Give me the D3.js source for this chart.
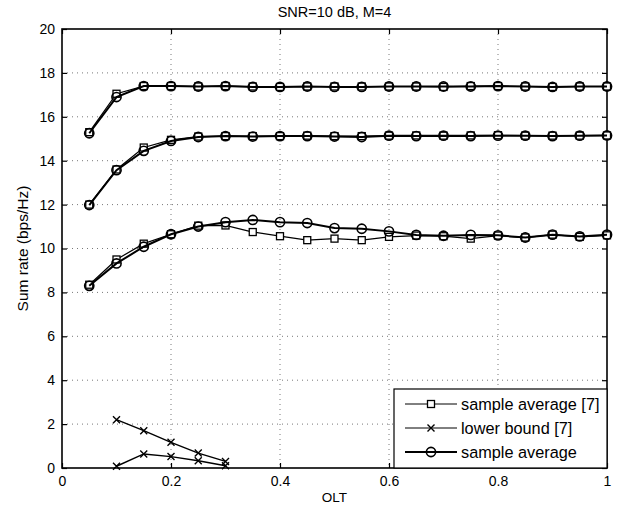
<!DOCTYPE html>
<html><head><meta charset="utf-8">
<script src="https://cdn.jsdelivr.net/npm/d3@7"></script>
<style>body{margin:0;background:#fff}svg{display:block}text{font-family:"Liberation Sans",Arial,sans-serif;fill:#000}</style>
</head><body><svg id="c" width="622" height="512"></svg>
<script>
const title = "SNR=10 dB, M=4";
const xLabel = "OLT";
const yLabel = "Sum rate (bps/Hz)";
const xTicks = [0, 0.2, 0.4, 0.6, 0.8, 1];
const yTicks = [0, 2, 4, 6, 8, 10, 12, 14, 16, 18, 20];
const olt = [0.05,0.1,0.15,0.2,0.25,0.3,0.35,0.4,0.45,0.5,0.55,0.6,0.65,0.7,0.75,0.8,0.85,0.9,0.95,1.0];
const topSq = [15.3,17.05,17.4,17.4,17.38,17.4,17.38,17.36,17.38,17.38,17.38,17.38,17.38,17.36,17.4,17.4,17.38,17.36,17.38,17.38];
const topCi = [15.25,16.9,17.4,17.4,17.38,17.4,17.36,17.36,17.38,17.36,17.36,17.38,17.38,17.38,17.38,17.4,17.38,17.36,17.38,17.38];
const midSq = [12.0,13.6,14.6,14.95,15.1,15.12,15.12,15.12,15.14,15.12,15.12,15.14,15.15,15.14,15.15,15.16,15.14,15.14,15.14,15.15];
const midCi = [11.98,13.57,14.45,14.9,15.08,15.12,15.1,15.12,15.12,15.1,15.08,15.14,15.12,15.14,15.12,15.14,15.14,15.12,15.14,15.15];
const botSq = [8.35,9.5,10.22,10.65,11.04,11.05,10.75,10.56,10.38,10.45,10.38,10.53,10.59,10.56,10.45,10.59,10.5,10.63,10.53,10.6];
const botCi = [8.3,9.32,10.08,10.65,11.0,11.2,11.3,11.2,11.16,10.93,10.9,10.78,10.62,10.58,10.62,10.6,10.5,10.63,10.55,10.63];
const lbX = [0.1,0.15,0.2,0.25,0.3];
const lbA = [2.2,1.7,1.17,0.68,0.3];
const lbB = [0.08,0.64,0.52,0.33,0.1];
const legendLabels = ["sample average [7]", "lower bound [7]", "sample average"];

const svg = d3.select("#c");
const L = 62, R = 607, T = 29, B = 468;
const x = d3.scaleLinear().domain([0, 1]).range([L, R]);
const y = d3.scaleLinear().domain([0, 20]).range([B, T]);

// grid
const g = svg.append("g");
g.selectAll(".gx").data(xTicks.slice(1, -1)).join("line")
  .attr("x1", d => x(d)).attr("x2", d => x(d)).attr("y1", T).attr("y2", B)
  .attr("stroke", "#555").attr("stroke-width", 0.8).attr("stroke-dasharray", "1,4");
g.selectAll(".gy").data(yTicks.slice(1, -1)).join("line")
  .attr("y1", d => y(d)).attr("y2", d => y(d)).attr("x1", L).attr("x2", R)
  .attr("stroke", "#555").attr("stroke-width", 0.8).attr("stroke-dasharray", "1,4");

// axes
const fs = 14;
const ax = svg.append("g").attr("transform", `translate(0,${B})`)
  .call(d3.axisBottom(x).tickValues(xTicks).tickFormat(d3.format("~g")).tickSizeInner(-5).tickSizeOuter(0).tickPadding(8));
const ay = svg.append("g").attr("transform", `translate(${L},0)`)
  .call(d3.axisLeft(y).tickValues(yTicks).tickSizeInner(-5).tickSizeOuter(0).tickPadding(7));
const at = svg.append("g").attr("transform", `translate(0,${T})`)
  .call(d3.axisTop(x).tickValues(xTicks).tickFormat("").tickSizeInner(-5).tickSizeOuter(0));
const ar = svg.append("g").attr("transform", `translate(${R},0)`)
  .call(d3.axisRight(y).tickValues(yTicks).tickFormat("").tickSizeInner(-5).tickSizeOuter(0));
[ax, ay, at, ar].forEach(a => {
  a.select(".domain").remove();
  a.selectAll("line").attr("stroke", "#000").attr("stroke-width", 1.2);
  a.selectAll("text").attr("font-size", fs).attr("font-family", "Liberation Sans, Arial, sans-serif").attr("fill", "#000");
});
svg.append("rect").attr("x", L).attr("y", T).attr("width", R - L).attr("height", B - T)
  .attr("fill", "none").attr("stroke", "#000").attr("stroke-width", 1.6);

// series
const line = d3.line().x(d => x(d[0])).y(d => y(d[1]));
const plot = svg.append("g");
function drawSeries(xs, ys, marker, lw) {
  const pts = xs.map((v, i) => [v, ys[i]]);
  plot.append("path").attr("d", line(pts)).attr("fill", "none").attr("stroke", "#000").attr("stroke-width", lw);
  pts.forEach(p => drawMarker(plot, x(p[0]), y(p[1]), marker));
}
function drawMarker(sel, cx, cy, marker) {
  if (marker === "sq") {
    sel.append("rect").attr("x", cx - 3.5).attr("y", cy - 3.5).attr("width", 7).attr("height", 7)
      .attr("fill", "#fff").attr("stroke", "#000").attr("stroke-width", 1.3);
  } else if (marker === "ci") {
    sel.append("circle").attr("cx", cx).attr("cy", cy).attr("r", 4.6)
      .attr("fill", "none").attr("stroke", "#000").attr("stroke-width", 1.6);
  } else {
    sel.append("path").attr("d", `M${cx-3.5},${cy-3.5}L${cx+3.5},${cy+3.5}M${cx-3.5},${cy+3.5}L${cx+3.5},${cy-3.5}`)
      .attr("stroke", "#000").attr("stroke-width", 1.4);
  }
}
drawSeries(olt, topSq, "sq", 1.2);
drawSeries(olt, midSq, "sq", 1.2);
drawSeries(olt, botSq, "sq", 1.2);
drawSeries(lbX, lbA, "x", 1.4);
drawSeries(lbX, lbB, "x", 1.4);
drawSeries(olt, topCi, "ci", 2);
drawSeries(olt, midCi, "ci", 2);
drawSeries(olt, botCi, "ci", 2);

// legend
const lg = svg.append("g");
lg.append("rect").attr("x", 394).attr("y", 389).attr("width", R - 394).attr("height", B - 389)
  .attr("fill", "#fff").attr("stroke", "#000").attr("stroke-width", 1.2);
const markers = ["sq", "x", "ci"];
const lws = [1, 1, 2];
const rowY = [404, 428, 452];
legendLabels.forEach((t, i) => {
  const ly = rowY[i];
  lg.append("line").attr("x1", 405).attr("x2", 457).attr("y1", ly).attr("y2", ly)
    .attr("stroke", "#000").attr("stroke-width", lws[i]);
  drawMarker(lg, 431, ly, markers[i]);
  lg.append("text").attr("x", 461).attr("y", ly).attr("dy", "0.35em").attr("font-size", 16.3).text(t);
});

// labels
svg.append("text").attr("x", (L + R) / 2).attr("y", 17).attr("text-anchor", "middle").attr("font-size", 14.5).text(title);
svg.append("text").attr("x", (L + R) / 2).attr("y", 502).attr("text-anchor", "middle").attr("font-size", 13.5).text(xLabel);
svg.append("text").attr("transform", `translate(28,${(T + B) / 2}) rotate(-90)`).attr("text-anchor", "middle").attr("font-size", 15.5).text(yLabel);
</script></body></html>
